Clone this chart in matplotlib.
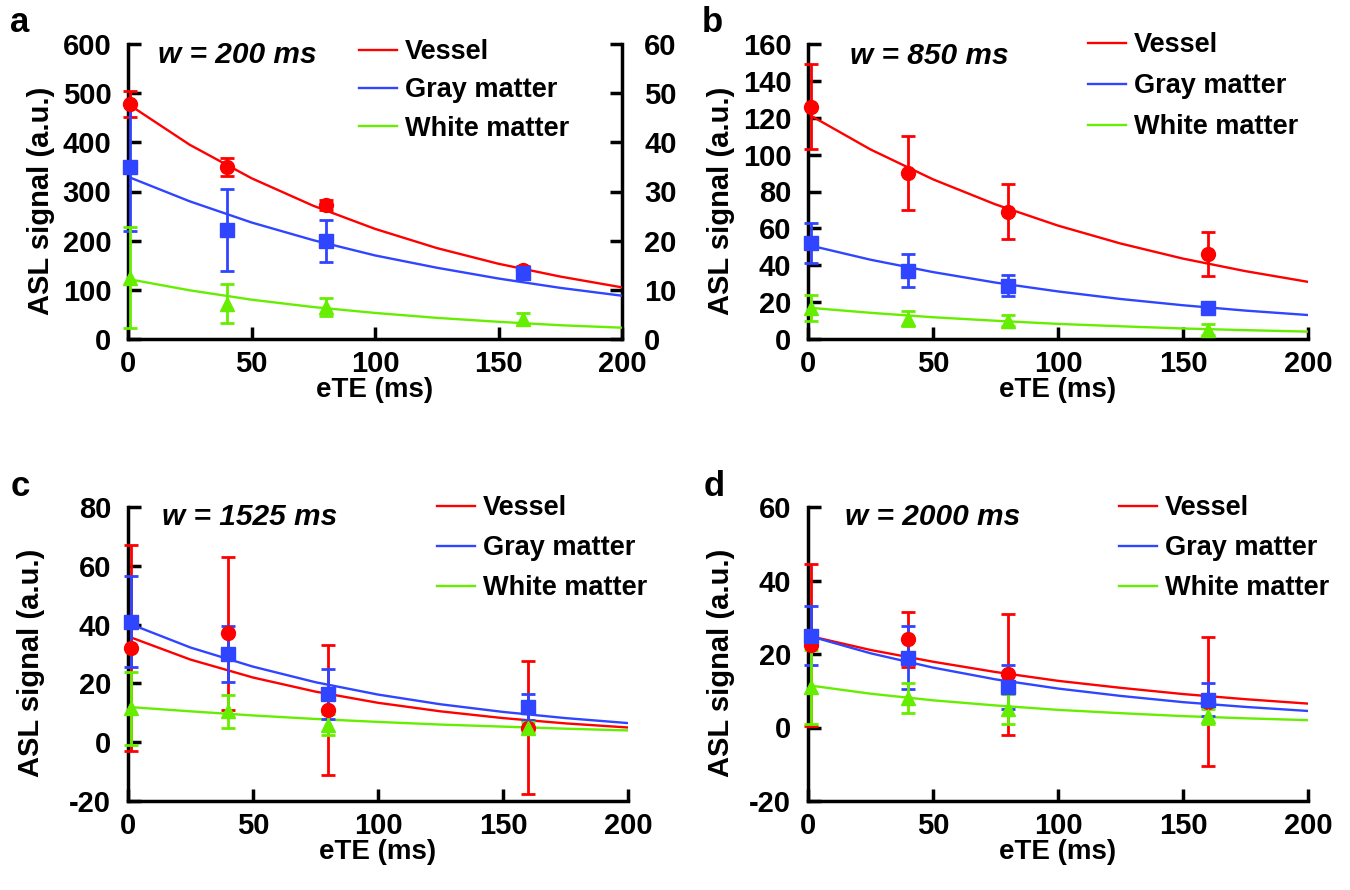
import numpy as np
import matplotlib.pyplot as plt

plt.rcParams['font.family'] = ['Liberation Sans', 'DejaVu Sans']
plt.rcParams['font.weight'] = 'bold'
plt.rcParams['axes.unicode_minus'] = False

# ---------------- data ----------------
ete_pts = [1, 40, 80, 160]
ete_fit = [0, 25, 50, 75, 100, 125, 150, 175, 200]

# panel a, w = 200 ms
a_vessel = [478, 350, 272, 140]
a_vessel_err = [27, 18, 10, 8]
a_gray = [350, 222, 200, 135]
a_gray_err = [130, 83, 43, 12]
a_white = [125, 72, 65, 40]
a_white_err = [103, 40, 19, 12]
a_vessel_fit = [478, 395, 327, 271, 224, 185, 153, 127, 105]
a_gray_fit = [330, 280, 237, 201, 170, 145, 123, 104, 88]
a_white_fit = [122, 99, 80, 65, 53, 43, 35, 28, 23]

# panel b, w = 850 ms
b_vessel = [126, 90, 69, 46]
b_vessel_err = [23, 20, 15, 12]
b_gray = [52, 37, 29, 17]
b_gray_err = [11, 9, 5.5, 2]
b_white = [17, 11, 10, 5]
b_white_err = [7, 4, 3, 3]
b_vessel_fit = [122, 102.8, 86.6, 73.0, 61.5, 51.8, 43.6, 36.8, 31]
b_gray_fit = [51, 43.0, 36.3, 30.6, 25.8, 21.7, 18.3, 15.4, 13]
b_white_fit = [17, 14.2, 11.8, 9.9, 8.2, 6.9, 5.7, 4.8, 4]

# panel c, w = 1525 ms
c_vessel = [32, 37, 11, 5]
c_vessel_err = [35, 26, 22, 22.5]
c_gray = [41, 30, 16.5, 12]
c_gray_err = [15.5, 9.5, 8.5, 4.5]
c_white = [11.5, 10.5, 6, 5]
c_white_err = [12.5, 5.5, 3.5, 2]
c_vessel_fit = [36, 28.1, 22.0, 17.2, 13.4, 10.5, 8.2, 6.4, 5]
c_gray_fit = [40.5, 32.2, 25.7, 20.4, 16.2, 12.9, 10.3, 8.2, 6.5]
c_white_fit = [12, 10.5, 9.1, 7.9, 6.9, 6.0, 5.3, 4.6, 4]

# panel d, w = 2000 ms
d_vessel = [22.5, 24, 14.5, 7]
d_vessel_err = [22, 7.5, 16.5, 17.5]
d_gray = [25, 19, 11, 7.5]
d_gray_err = [8, 8.5, 6, 4.5]
d_white = [11, 8, 5, 3]
d_white_err = [10, 4, 4, 2]
d_vessel_fit = [25, 21.1, 17.9, 15.1, 12.7, 10.8, 9.1, 7.7, 6.5]
d_gray_fit = [25, 20.2, 16.3, 13.1, 10.6, 8.6, 6.9, 5.6, 4.5]
d_white_fit = [11.5, 9.2, 7.4, 6.0, 4.8, 3.9, 3.1, 2.5, 2]

labels = ['Vessel', 'Gray matter', 'White matter']
colors = ['#ff0000', '#2f45ff', '#66ee00']
markers = ['o', 's', '^']

W, H = 1350, 890
fig = plt.figure(figsize=(13.5, 8.9), dpi=100)


def px_axes(left, top, right, bottom):
    return fig.add_axes([left / W, 1 - bottom / H, (right - left) / W, (bottom - top) / H])


def draw_panel(ax, pts, errs, fits, ylim, ystep, title, leg_xy, title_xy, ylab_x, lsp):
    for fit, c, lab in zip(fits, colors, labels):
        ax.plot(ete_fit, fit, color=c, lw=1.7, label=lab, zorder=2)
    for y, e, c, m in zip(pts, errs, colors, markers):
        ax.errorbar(ete_pts, y, yerr=e, fmt=m, color=c, ms=10, capsize=5,
                    elinewidth=2, capthick=2, zorder=3, clip_on=False)
    ax.set_xlim(0, 200)
    ax.set_ylim(*ylim)
    ax.set_xticks(np.arange(0, 201, 50))
    ax.set_yticks(np.arange(ylim[0], ylim[1] + 1, ystep))
    for s in ['top', 'right']:
        ax.spines[s].set_visible(False)
    for s in ['left', 'bottom']:
        ax.spines[s].set_linewidth(2.5)
    ax.tick_params(axis='both', direction='in', length=9, width=2.5, labelsize=21)
    ax.tick_params(axis='y', pad=12)
    ax.tick_params(axis='x', pad=8)
    ax.set_ylabel('ASL signal (a.u.)', fontsize=21, fontweight='bold')
    ax.set_xlabel('eTE (ms)', fontsize=20, fontweight='bold')
    ax.yaxis.set_label_coords(ylab_x, 0.47)
    ax.xaxis.set_label_coords(0.5, -0.13)
    ax.text(title_xy[0], title_xy[1], title, transform=ax.transAxes, fontsize=21.5,
            fontweight='bold', style='italic', va='center', ha='left')
    ax.legend(loc='upper left', bbox_to_anchor=leg_xy, frameon=False, fontsize=19.5,
              handlelength=1.4, handletextpad=0.3, labelspacing=lsp,
              borderpad=0, borderaxespad=0)


ax_a = px_axes(128, 44, 622, 339)
ax_b = px_axes(808, 44, 1308, 339)
ax_c = px_axes(128, 507, 628, 801)
ax_d = px_axes(808, 507, 1308, 801)

draw_panel(ax_a, [a_vessel, a_gray, a_white], [a_vessel_err, a_gray_err, a_white_err],
           [a_vessel_fit, a_gray_fit, a_white_fit], (0, 600), 100, 'w = 200 ms',
           (0.468, 1.016), (0.06, 0.963), -0.148, 0.45)
draw_panel(ax_b, [b_vessel, b_gray, b_white], [b_vessel_err, b_gray_err, b_white_err],
           [b_vessel_fit, b_gray_fit, b_white_fit], (0, 160), 20, 'w = 850 ms',
           (0.56, 1.04), (0.084, 0.96), -0.146, 0.55)
draw_panel(ax_c, [c_vessel, c_gray, c_white], [c_vessel_err, c_gray_err, c_white_err],
           [c_vessel_fit, c_gray_fit, c_white_fit], (-20, 80), 20, 'w = 1525 ms',
           (0.618, 1.04), (0.068, 0.966), -0.166, 0.52)
draw_panel(ax_d, [d_vessel, d_gray, d_white], [d_vessel_err, d_gray_err, d_white_err],
           [d_vessel_fit, d_gray_fit, d_white_fit], (-20, 60), 20, 'w = 2000 ms',
           (0.622, 1.04), (0.074, 0.966), -0.146, 0.52)

# right-hand axis of panel a (scale / 10)
sec = ax_a.secondary_yaxis('right', functions=(lambda v: v / 10, lambda v: v * 10))
sec.set_yticks(np.arange(0, 61, 10))
sec.spines['right'].set_linewidth(2.5)
sec.tick_params(direction='in', length=9, width=2.5, labelsize=21, pad=16)

for lab, x, y in [('a', 20, 22), ('b', 712, 22), ('c', 20, 487), ('d', 714, 487)]:
    fig.text(x / W, 1 - y / H, lab, fontsize=25, fontweight='bold', ha='center', va='center')

fig.savefig('out.png', dpi=100)
